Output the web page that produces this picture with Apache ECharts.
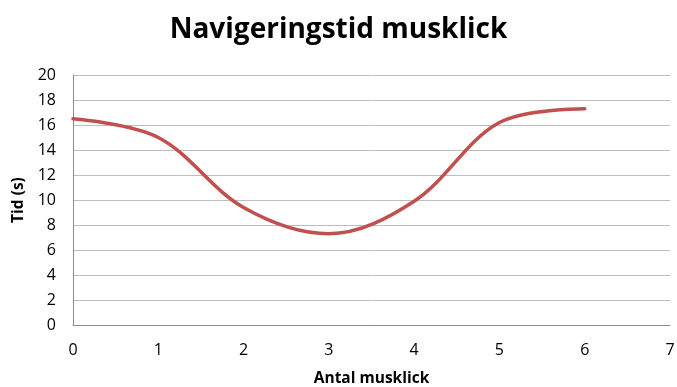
<!DOCTYPE html>
<html>
<head>
<meta charset="utf-8">
<script src="https://cdn.jsdelivr.net/npm/echarts@6/dist/echarts.min.js"></script>
<style>
  html, body { margin: 0; padding: 0; background: #fff; }
  #chart { width: 677px; height: 387px; }
</style>
</head>
<body>
<div id="chart"></div>
<script>
// Navigation time by number of mouse clicks
const clicks = [0, 1, 2, 3, 4, 5, 6];
const seconds = [16.5, 15.0, 9.4, 7.3, 9.9, 16.2, 17.3];

const FONT = '"Open Sans", "Liberation Sans", sans-serif';

const chart = echarts.init(document.getElementById('chart'), null, { renderer: 'canvas' });
chart.setOption({
  animation: false,
  backgroundColor: '#ffffff',
  title: {
    text: 'Navigeringstid musklick',
    left: 'center',
    top: 11,
    textStyle: { fontFamily: FONT, fontSize: 28, fontWeight: 'bold', color: '#000' }
  },
  grid: { left: 73, right: 7, top: 75, bottom: 62, containLabel: false, outerBoundsMode: 'none' },
  xAxis: {
    type: 'value',
    min: 0, max: 7, interval: 1,
    name: 'Antal musklick',
    nameLocation: 'middle',
    nameGap: 46,
    nameTextStyle: { fontFamily: FONT, fontSize: 15.5, fontWeight: 'bold', color: '#000' },
    axisLine: { show: true, lineStyle: { color: '#8c8c8c', width: 1 } },
    axisTick: { show: false },
    axisLabel: { fontFamily: FONT, fontSize: 16, color: '#000', margin: 17 },
    splitLine: { show: false }
  },
  yAxis: {
    type: 'value',
    min: 0, max: 20, interval: 2,
    name: 'Tid (s)',
    nameLocation: 'middle',
    nameGap: 45,
    nameRotate: 90,
    nameTextStyle: { fontFamily: FONT, fontSize: 15.5, fontWeight: 'bold', color: '#000' },
    axisLine: { show: true, lineStyle: { color: '#8c8c8c', width: 1 } },
    axisTick: { show: false },
    axisLabel: { fontFamily: FONT, fontSize: 16, color: '#000', margin: 17 },
    splitLine: { show: true, lineStyle: { color: '#bdbdbd', width: 1 } }
  },
  series: [{
    type: 'line',
    data: clicks.map((c, i) => [c, seconds[i]]),
    smooth: 0.35,
    symbol: 'none',
    lineStyle: { color: '#c0504d', width: 3.5, cap: 'round' }
  }]
});
</script>
</body>
</html>
